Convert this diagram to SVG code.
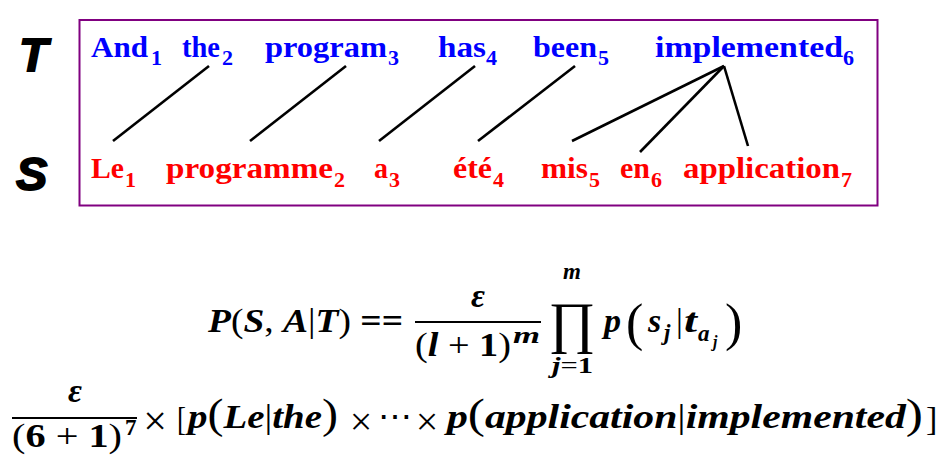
<svg xmlns="http://www.w3.org/2000/svg" width="941" height="460" viewBox="0 0 941 460">
<style>
.t{font-family:'Liberation Serif','Times New Roman',serif;font-weight:bold;font-size:29px;fill:#0000FF}
.s{font-family:'Liberation Serif','Times New Roman',serif;font-weight:bold;font-size:29px;fill:#FF0000}
.sub{font-size:22px}
.lbl{font-family:'Liberation Sans',Arial,sans-serif;font-weight:bold;font-style:italic;font-size:47px;fill:#000;stroke:#000;stroke-width:1.8}
.m{font-family:'Liberation Serif','Times New Roman',serif;font-size:34px;fill:#000}
.dj{font-family:'DejaVu Serif',serif}
.bi{font-weight:bold;font-style:italic}
.b{font-weight:bold}
.sm{font-size:23px}
.xs{font-size:16px}
.ln{stroke:#000;stroke-width:2.6;stroke-linecap:butt;fill:none}
.fr{stroke:#000;stroke-width:2;fill:none}
</style>
<rect id="frame" x="79.5" y="20" width="798" height="185.5" fill="#fff" stroke="#800080" stroke-width="2"/>
<g id="label-T"><text class="lbl" x="19" y="71">T</text></g>
<g id="label-S"><text class="lbl" x="16" y="190">S</text></g>
<g id="target-words">
<g id="t1"><text class="t" x="91" y="57" textLength="57" lengthAdjust="spacingAndGlyphs">And</text><text class="t sub" x="151" y="65">1</text></g>
<g id="t2"><text class="t" x="182" y="57" textLength="38" lengthAdjust="spacingAndGlyphs">the</text><text class="t sub" x="222" y="65">2</text></g>
<g id="t3"><text class="t" x="265" y="57" textLength="122" lengthAdjust="spacingAndGlyphs">program</text><text class="t sub" x="388" y="65">3</text></g>
<g id="t4"><text class="t" x="438" y="57" textLength="48" lengthAdjust="spacingAndGlyphs">has</text><text class="t sub" x="486" y="65">4</text></g>
<g id="t5"><text class="t" x="533" y="57" textLength="64" lengthAdjust="spacingAndGlyphs">been</text><text class="t sub" x="598" y="65">5</text></g>
<g id="t6"><text class="t" x="655" y="57" textLength="188" lengthAdjust="spacingAndGlyphs">implemented</text><text class="t sub" x="843" y="65">6</text></g>
</g>
<g id="source-words">
<g id="s1"><text class="s" x="91" y="178" textLength="33" lengthAdjust="spacingAndGlyphs">Le</text><text class="s sub" x="125" y="187">1</text></g>
<g id="s2"><text class="s" x="166" y="178" textLength="167" lengthAdjust="spacingAndGlyphs">programme</text><text class="s sub" x="334" y="187">2</text></g>
<g id="s3"><text class="s" x="374" y="178" textLength="14" lengthAdjust="spacingAndGlyphs">a</text><text class="s sub" x="389" y="187">3</text></g>
<g id="s4"><text class="s" x="453" y="178" textLength="39" lengthAdjust="spacingAndGlyphs">été</text><text class="s sub" x="493" y="187">4</text></g>
<g id="s5"><text class="s" x="541" y="178" textLength="47" lengthAdjust="spacingAndGlyphs">mis</text><text class="s sub" x="589" y="187">5</text></g>
<g id="s6"><text class="s" x="620" y="178" textLength="30" lengthAdjust="spacingAndGlyphs">en</text><text class="s sub" x="651" y="187">6</text></g>
<g id="s7"><text class="s" x="683" y="178" textLength="157" lengthAdjust="spacingAndGlyphs">application</text><text class="s sub" x="841" y="187">7</text></g>
</g>
<g id="connectors">
<line class="ln" x1="113" y1="141" x2="209" y2="66"/>
<line class="ln" x1="250" y1="141" x2="346" y2="66"/>
<line class="ln" x1="379" y1="141" x2="475" y2="66"/>
<line class="ln" x1="478" y1="141" x2="575" y2="66"/>
<line class="ln" x1="572" y1="141" x2="724" y2="66"/>
<line class="ln" x1="640" y1="152" x2="724" y2="66"/>
<line class="ln" x1="748" y1="146" x2="724" y2="66"/>
</g>
<g id="formula-1">
<text class="m" x="208" y="332" textLength="195" lengthAdjust="spacingAndGlyphs"><tspan class="bi">P</tspan>(<tspan class="bi">S</tspan>, <tspan class="bi">A</tspan>|<tspan class="bi">T</tspan>) <tspan class="b">==</tspan></text>
<text class="m bi" x="478" y="307" text-anchor="middle">ε</text>
<line class="fr" x1="415" y1="322" x2="541" y2="322"/>
<text class="m" x="415" y="356" textLength="96" lengthAdjust="spacingAndGlyphs">(<tspan class="bi">l</tspan> + <tspan class="b">1</tspan>)</text>
<text class="m bi sm" x="513" y="343" textLength="27" lengthAdjust="spacingAndGlyphs">m</text>
<text class="m bi sm" x="572" y="279" text-anchor="middle">m</text>
<text class="m" x="572" y="342" text-anchor="middle" style="font-size:57px">∏</text>
<text class="m sm" x="552" y="373" textLength="41" lengthAdjust="spacingAndGlyphs"><tspan class="bi">j</tspan>=<tspan class="b">1</tspan></text>
<text class="m bi" x="604" y="332">p</text>
<text class="m" x="626" y="340" style="font-size:52px">(</text>
<text class="m bi" x="648" y="332">s</text>
<text class="m bi sm" x="664" y="340">j</text>
<text class="m" x="676" y="332">|</text>
<text class="m bi" x="684" y="332" textLength="13" lengthAdjust="spacingAndGlyphs">t</text>
<text class="m bi sm" x="698" y="341">a</text>
<text class="m bi xs" x="713" y="347">j</text>
<text class="m" x="725" y="340" style="font-size:52px">)</text>
</g>
<g id="formula-2">
<text class="m bi" x="75" y="402" text-anchor="middle">ε</text>
<line class="fr" x1="12" y1="418" x2="137" y2="418"/>
<text class="m" x="12" y="447" textLength="110" lengthAdjust="spacingAndGlyphs">(<tspan class="b">6</tspan> + <tspan class="b">1</tspan>)</text>
<text class="m b sm" x="125" y="435">7</text>
<text class="m" x="155" y="435" text-anchor="middle" style="font-size:42px">×</text>
<text class="m" x="177" y="430" textLength="9" lengthAdjust="spacingAndGlyphs">[</text>
<text class="m" x="188" y="428" textLength="150" lengthAdjust="spacingAndGlyphs"><tspan class="bi">p</tspan><tspan style="font-size:42px">(</tspan><tspan class="bi">Le</tspan>|<tspan class="bi">the</tspan><tspan style="font-size:42px">)</tspan></text>
<text class="m" x="361" y="435" text-anchor="middle" style="font-size:40px">×</text>
<text class="m dj" x="395" y="428" text-anchor="middle">⋯</text>
<text class="m" x="427" y="435" text-anchor="middle" style="font-size:40px">×</text>
<text class="m" x="447" y="428" textLength="476" lengthAdjust="spacingAndGlyphs"><tspan class="bi">p</tspan><tspan style="font-size:42px">(</tspan><tspan class="bi">application</tspan>|<tspan class="bi">implemented</tspan><tspan style="font-size:42px">)</tspan></text>
<text class="m" x="926" y="430">]</text>
</g>
</svg>
